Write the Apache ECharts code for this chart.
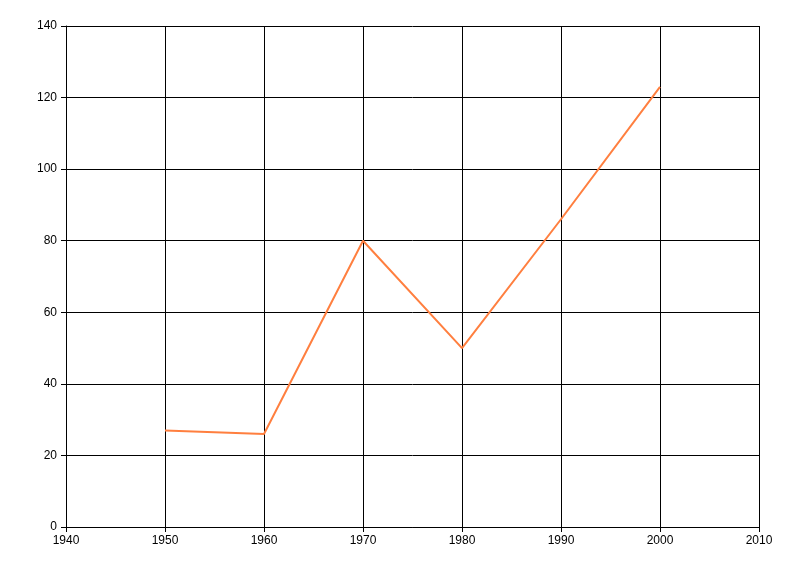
<!DOCTYPE html>
<html><head><meta charset="utf-8">
<script src="https://cdn.jsdelivr.net/npm/echarts@6/dist/echarts.min.js"></script>
<style>html,body{margin:0;padding:0;background:#fff}#c{width:800px;height:576px}</style>
</head><body><div id="c"></div>
<script>
const years = [1950, 1960, 1970, 1980, 1990, 2000];
const values = [27, 26, 80, 50, 86, 123];

const chart = echarts.init(document.getElementById('c'), null, {renderer: 'canvas'});
const labelStyle = {color: '#000', fontFamily: 'Liberation Sans, Arial, sans-serif', fontSize: 12};
const axisCommon = {
  axisLine: {show: true, lineStyle: {color: '#000', width: 1}},
  axisTick: {show: true, length: 5, lineStyle: {color: '#000'}},
  splitLine: {show: true, lineStyle: {color: '#000', width: 1}}
};
chart.setOption({
  animation: false,
  grid: {left: 66, right: 41, top: 26, bottom: 49, containLabel: false},
  xAxis: Object.assign({type: 'value', min: 1940, max: 2010, interval: 10}, axisCommon,
    {axisLabel: Object.assign({}, labelStyle, {margin: 8, formatter: v => String(v)})}),
  yAxis: Object.assign({type: 'value', min: 0, max: 140, interval: 20}, axisCommon,
    {axisLabel: Object.assign({}, labelStyle, {margin: 9})}),
  series: [{
    type: 'line',
    data: years.map((y, i) => [y, values[i]]),
    showSymbol: false,
    lineStyle: {color: '#ff7f3f', width: 2},
    itemStyle: {color: '#ff7f3f'}
  }]
});
</script></body></html>
